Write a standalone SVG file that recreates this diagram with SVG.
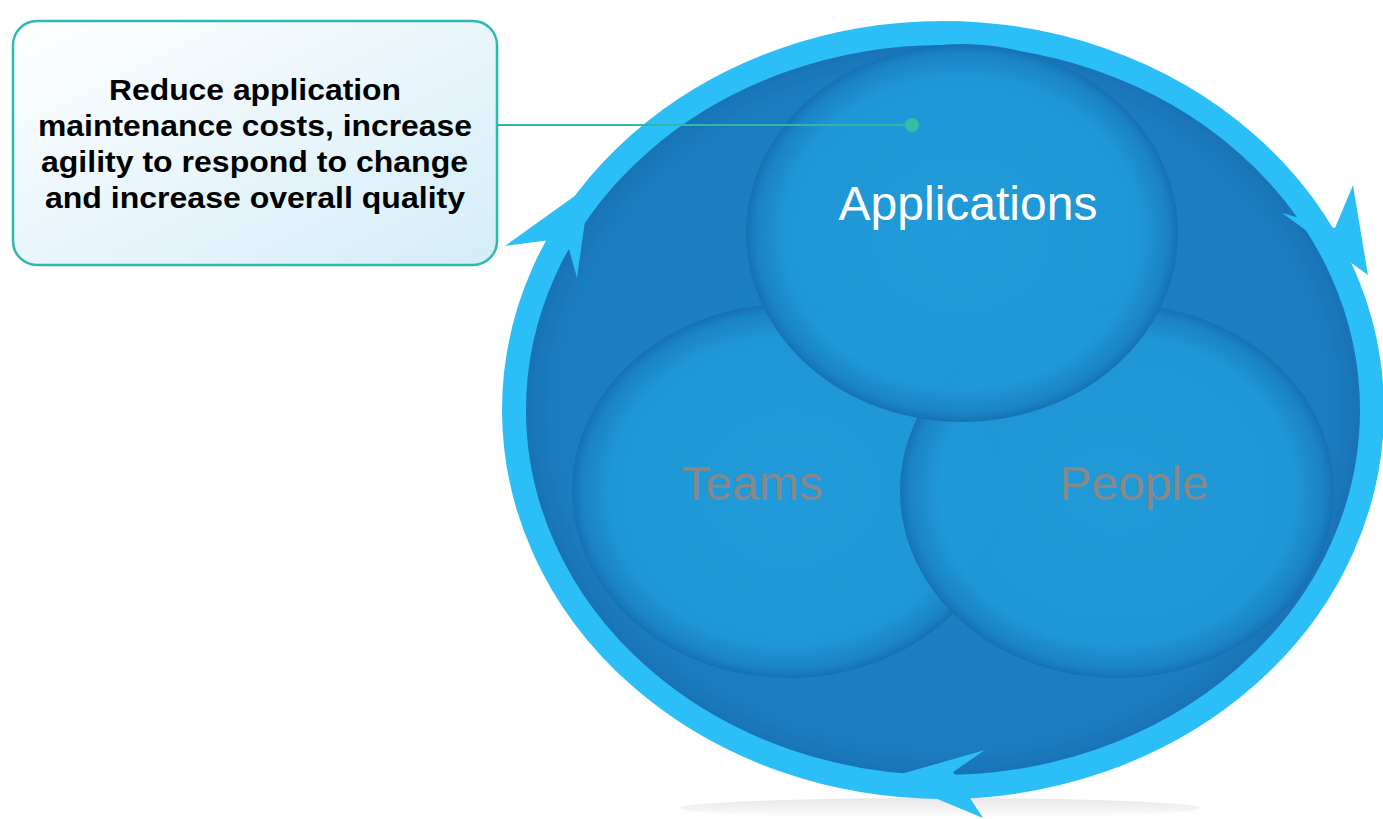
<svg xmlns="http://www.w3.org/2000/svg" width="1383" height="819" viewBox="0 0 1383 819">
<style>
.big{font-family:"Liberation Sans",Arial,sans-serif;font-size:48px;text-anchor:middle}
.call{font-family:"Liberation Sans",Arial,sans-serif;font-size:29px;font-weight:bold;fill:#000}
.ring{fill:#2CBFF7}
</style>
<defs>
<radialGradient id="bg" cx="0.5" cy="0.5" r="0.5">
<stop offset="0" stop-color="#1B82C4"/>
<stop offset="0.9" stop-color="#1A7DBF"/>
<stop offset="1" stop-color="#176FB3"/>
</radialGradient>
<radialGradient id="circ" cx="0.5" cy="0.5" r="0.5">
<stop offset="0" stop-color="#219CDA"/>
<stop offset="0.82" stop-color="#1F98D7"/>
<stop offset="0.95" stop-color="#1A84C6"/>
<stop offset="1" stop-color="#1570B2"/>
</radialGradient>
<linearGradient id="box" x1="0" y1="0" x2="1" y2="1">
<stop offset="0" stop-color="#FFFFFF"/>
<stop offset="1" stop-color="#D3EDF8"/>
</linearGradient>
<linearGradient id="shadow" x1="0" y1="0" x2="0" y2="1">
<stop offset="0" stop-color="#E6E6E6"/>
<stop offset="1" stop-color="#FFFFFF"/>
</linearGradient>
</defs>
<ellipse cx="940" cy="808" rx="260" ry="10" fill="url(#shadow)"/>
<g id="cycle">
<ellipse cx="943" cy="410" rx="429" ry="377" fill="url(#bg)" stroke="#2CBFF7" stroke-width="24"/>
<polygon class="ring" points="590,185 505,246 566,238 577,278"/>
<polygon class="ring" points="1368,275 1282,213 1335,228 1353,185"/>
<polygon class="ring" points="887,778 985,750 953,772 983,818"/>
</g>
<g id="teams">
<ellipse cx="789" cy="491" rx="217" ry="187" fill="url(#circ)" opacity="0.95"/>
<text class="big" x="752" y="500" fill="#888888">Teams</text>
</g>
<g id="people">
<ellipse cx="1117" cy="491" rx="217" ry="187" fill="url(#circ)" opacity="0.92"/>
<text class="big" x="1134" y="500" fill="#888888">People</text>
</g>
<g id="applications">
<ellipse cx="962" cy="233" rx="216" ry="189" fill="url(#circ)" opacity="0.95"/>
<text class="big" x="968" y="220" fill="#FFFFFF">Applications</text>
</g>
<g id="connectors">
<line x1="497" y1="125" x2="912" y2="125" stroke="#2FB8A6" stroke-width="2"/>
<circle cx="912" cy="125" r="7" fill="#37BCA4"/>
</g>
<g id="callout">
<rect x="13" y="21" width="484" height="244" rx="24" fill="url(#box)" stroke="#2FB8B0" stroke-width="2.5"/>
<text class="call" x="109" y="100" textLength="292" lengthAdjust="spacingAndGlyphs">Reduce application</text>
<text class="call" x="38" y="136" textLength="434" lengthAdjust="spacingAndGlyphs">maintenance costs, increase</text>
<text class="call" x="41" y="172" textLength="427" lengthAdjust="spacingAndGlyphs">agility to respond to change</text>
<text class="call" x="45" y="208" textLength="420" lengthAdjust="spacingAndGlyphs">and increase overall quality</text>
</g>
</svg>
